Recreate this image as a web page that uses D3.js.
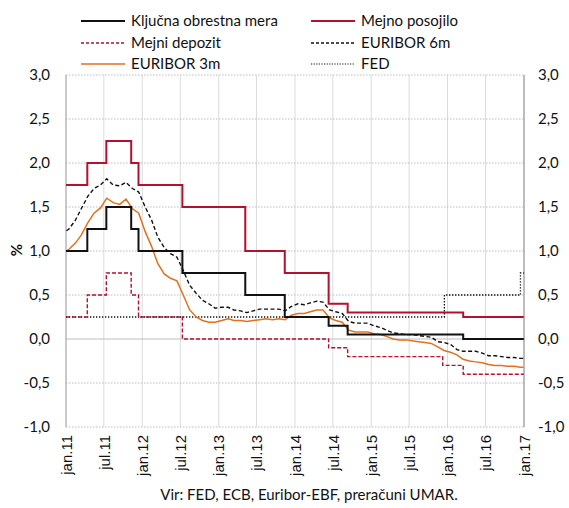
<!DOCTYPE html>
<html><head><meta charset="utf-8">
<script src="https://cdn.jsdelivr.net/npm/d3@7"></script>
<style>
html,body{margin:0;padding:0;background:#fff;}
svg{display:block;font-family:Lato, "Open Sans", sans-serif;}
</style></head>
<body>
<svg id="c" width="569" height="508"></svg>
<script>
// ---------- DATA ----------
const yTicks = [-1.0,-0.5,0.0,0.5,1.0,1.5,2.0,2.5,3.0];
const xTickLabels = ["jan.11","jul.11","jan.12","jul.12","jan.13","jul.13","jan.14","jul.14","jan.15","jul.15","jan.16","jul.16","jan.17"];
const xTickDates = ["2011-01-01","2011-07-01","2012-01-01","2012-07-01","2013-01-01","2013-07-01","2014-01-01","2014-07-01","2015-01-01","2015-07-01","2016-01-01","2016-07-01","2017-01-01"];

// policy rates: change dates and values (step series)
const mainRateDates = ["2011-01-01","2011-04-13","2011-07-13","2011-11-09","2011-12-14","2012-07-11","2013-05-08","2013-11-13","2014-06-11","2014-09-10","2016-03-16","2016-12-31"];
const mainRate      = [1.00,1.25,1.50,1.25,1.00,0.75,0.50,0.25,0.15,0.05,0.00,0.00];
const lendingDates  = ["2011-01-01","2011-04-13","2011-07-13","2011-11-09","2011-12-14","2012-07-11","2013-05-08","2013-11-13","2014-06-11","2014-09-10","2016-03-16","2016-12-31"];
const lending       = [1.75,2.00,2.25,2.00,1.75,1.50,1.00,0.75,0.40,0.30,0.25,0.25];
const depositDates  = ["2011-01-01","2011-04-13","2011-07-13","2011-11-09","2011-12-14","2012-07-11","2014-06-11","2014-09-10","2015-12-09","2016-03-16","2016-12-31"];
const deposit       = [0.25,0.50,0.75,0.50,0.25,0.00,-0.10,-0.20,-0.30,-0.40,-0.40];
const fedDates      = ["2011-01-01","2015-12-17","2016-12-15","2016-12-31"];
const fed           = [0.25,0.50,0.75,0.75];

// EURIBOR: start, monthly (mid-month) values Jan 2011 - Dec 2016, end
const euriborStart = "2011-01-03";
const euriborEnd = "2016-12-30";
const euribor3mStartEnd = [1.00,-0.32];
const euribor6mStartEnd = [1.23,-0.22];
const euribor3m = [
 1.02,1.09,1.18,1.32,1.43,1.49,1.60,1.55,1.53,1.59,1.48,1.43,
 1.22,1.05,0.86,0.74,0.69,0.66,0.50,0.33,0.25,0.21,0.19,0.19,
 0.21,0.23,0.21,0.21,0.20,0.21,0.22,0.23,0.22,0.23,0.22,0.27,
 0.29,0.29,0.31,0.33,0.33,0.24,0.21,0.19,0.10,0.08,0.08,0.08,
 0.06,0.05,0.03,0.00,-0.01,-0.01,-0.02,-0.03,-0.04,-0.05,-0.09,-0.13,
 -0.15,-0.18,-0.23,-0.25,-0.26,-0.27,-0.29,-0.30,-0.30,-0.31,-0.31,-0.32];
const euribor6m = [
 1.25,1.35,1.48,1.62,1.71,1.75,1.82,1.75,1.74,1.78,1.71,1.67,
 1.50,1.35,1.16,1.04,0.97,0.93,0.78,0.61,0.52,0.44,0.40,0.35,
 0.36,0.36,0.33,0.32,0.30,0.32,0.34,0.34,0.34,0.34,0.32,0.37,
 0.40,0.39,0.41,0.43,0.42,0.33,0.31,0.29,0.20,0.18,0.18,0.18,
 0.15,0.13,0.10,0.07,0.06,0.05,0.05,0.04,0.03,0.02,-0.03,-0.04,
 -0.06,-0.12,-0.14,-0.14,-0.14,-0.16,-0.19,-0.19,-0.20,-0.21,-0.21,-0.22];

// ---------- CHART ----------
const parse = d3.timeParse("%Y-%m-%d");
const svg = d3.select("#c");
const m = {l:66, r:524, t:75, b:427};
const x = d3.scaleTime().domain([parse("2011-01-01"), parse("2017-01-01")]).range([m.l, m.r]);
const y = d3.scaleLinear().domain([-1, 3]).range([m.b, m.t]);

const RED = "#b3112e", ORANGE = "#e2701f";

// vertical grid
svg.append("g").selectAll("line").data(xTickDates).join("line")
  .attr("x1", d => x(parse(d))).attr("x2", d => x(parse(d)))
  .attr("y1", m.t).attr("y2", m.b)
  .attr("stroke", "#dcdcdc").attr("stroke-width", 1);
// horizontal grid
svg.append("g").selectAll("line").data(yTicks).join("line")
  .attr("x1", m.l).attr("x2", m.r)
  .attr("y1", d => y(d)).attr("y2", d => y(d))
  .attr("stroke", "#bdbdbd")
  .attr("stroke-width", 1)
  .attr("stroke-dasharray", d => d === 0 ? null : "1.5,1.5");
// left/right borders
svg.append("line").attr("x1", m.l).attr("x2", m.l).attr("y1", m.t).attr("y2", m.b).attr("stroke", "#a6a6a6");
svg.append("line").attr("x1", m.r).attr("x2", m.r).attr("y1", m.t).attr("y2", m.b).attr("stroke", "#8c8c8c");

// y axes labels
const fmt = v => d3.format(".1f")(v).replace(".", ",").replace("−","-");
const yAxisL = d3.axisLeft(y).tickValues(yTicks).tickFormat(fmt).tickSize(0).tickPadding(16);
const gL = svg.append("g").attr("transform", `translate(${m.l},0)`).call(yAxisL);
const yAxisR = d3.axisRight(y).tickValues(yTicks).tickFormat(fmt).tickSize(0).tickPadding(14);
const gR = svg.append("g").attr("transform", `translate(${m.r},0)`).call(yAxisR);
[gL, gR].forEach(g => {
  g.select(".domain").remove();
  g.selectAll("text").attr("font-size", 15).attr("fill", "#111").attr("font-family", "Lato, sans-serif");
});

// x axis labels (rotated)
const xAxis = d3.axisBottom(x).tickValues(xTickDates.map(parse))
  .tickFormat((d, i) => xTickLabels[i]).tickSize(0).tickPadding(0);
const gX = svg.append("g").attr("transform", `translate(0,${m.b})`).call(xAxis);
gX.select(".domain").remove();
gX.selectAll("text")
  .attr("font-size", 15).attr("fill", "#111")
  .attr("text-anchor", "end")
  .attr("dy", "0.35em")
  .attr("transform", "rotate(-90)")
  .attr("x", -8).attr("y", 0);

// % label
svg.append("text").attr("transform", "translate(22,250) rotate(-90)")
  .attr("text-anchor", "middle").attr("font-size", 15).attr("font-weight", "bold")
  .attr("fill", "#111").text("%");

// series
const stepLine = d3.line().x(d => x(d[0])).y(d => y(d[1])).curve(d3.curveStepAfter);
const line = d3.line().x(d => x(d[0])).y(d => y(d[1]));
const zipSeries = (dates, vals) => dates.map((d, i) => [parse(d), vals[i]]);
const monthly = (vals, se) => [[parse(euriborStart), se[0]]]
  .concat(vals.map((v, i) => [new Date(2011, i, 15), v]))
  .concat([[parse(euriborEnd), se[1]]]);

const g = svg.append("g");
g.append("path").datum(zipSeries(fedDates, fed)).attr("d", stepLine)
  .attr("fill", "none").attr("stroke", "#111").attr("stroke-width", 1.3).attr("stroke-dasharray", "1.3,1.7");
g.append("path").datum(zipSeries(depositDates, deposit)).attr("d", stepLine)
  .attr("fill", "none").attr("stroke", RED).attr("stroke-width", 1.4).attr("stroke-dasharray", "4,2");
g.append("path").datum(monthly(euribor6m, euribor6mStartEnd)).attr("d", line)
  .attr("fill", "none").attr("stroke", "#111").attr("stroke-width", 1.4).attr("stroke-dasharray", "4,2.5");
g.append("path").datum(monthly(euribor3m, euribor3mStartEnd)).attr("d", line)
  .attr("fill", "none").attr("stroke", ORANGE).attr("stroke-width", 1.5);
g.append("path").datum(zipSeries(mainRateDates, mainRate)).attr("d", stepLine)
  .attr("fill", "none").attr("stroke", "#111").attr("stroke-width", 2);
g.append("path").datum(zipSeries(lendingDates, lending)).attr("d", stepLine)
  .attr("fill", "none").attr("stroke", RED).attr("stroke-width", 2);

// legend
const legendItems = [
  {name:"Ključna obrestna mera", color:"#111", w:2, dash:null, col:0, row:0},
  {name:"Mejno posojilo", color:RED, w:2, dash:null, col:1, row:0},
  {name:"Mejni depozit", color:RED, w:1.4, dash:"3,2", col:0, row:1},
  {name:"EURIBOR 6m", color:"#111", w:1.3, dash:"3,2", col:1, row:1},
  {name:"EURIBOR 3m", color:ORANGE, w:1.5, dash:null, col:0, row:2},
  {name:"FED", color:"#111", w:1.2, dash:"1.2,1.4", col:1, row:2}
];
const lg = svg.append("g");
const colX = [81, 311], rowY = [21, 43, 64];
legendItems.forEach(it => {
  const lx = colX[it.col], ly = rowY[it.row];
  lg.append("line").attr("x1", lx).attr("x2", lx + 44).attr("y1", ly).attr("y2", ly)
    .attr("stroke", it.color).attr("stroke-width", it.w).attr("stroke-dasharray", it.dash);
  lg.append("text").attr("x", lx + 50).attr("y", ly).attr("dy", "0.35em")
    .attr("font-size", 15).attr("fill", "#111").text(it.name);
});

// source
svg.append("text").attr("x", 309).attr("y", 500).attr("text-anchor", "middle")
  .attr("font-size", 15).attr("fill", "#111").text("Vir: FED, ECB, Euribor-EBF, preračuni UMAR.");
</script>
</body></html>
